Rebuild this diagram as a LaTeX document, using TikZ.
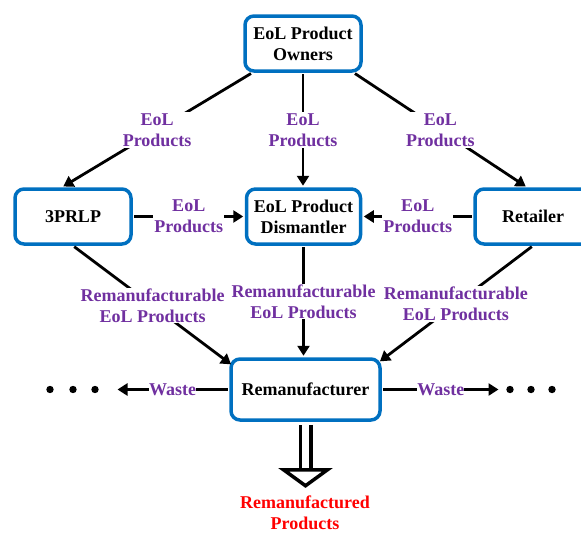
\documentclass[tikz,border=0pt]{standalone}
\usepackage{fontspec}
\setmainfont{Liberation Serif}
\usetikzlibrary{arrows.meta}
\definecolor{eolblue}{RGB}{0,112,192}
\definecolor{eolpurple}{RGB}{112,48,160}
\tikzset{
  actor/.style={draw=eolblue, line width=3.5pt, rounded corners=9pt, fill=white,
                align=center, minimum height=55pt, minimum width=116pt, inner sep=2pt},
  flow/.style={line width=2.8pt, shorten <=1.5pt, shorten >=1.5pt,
               -{Triangle[length=10pt,width=12pt]}},
  flowlab/.style={text=eolpurple, fill=white, align=center, inner sep=1pt}
}

\begin{document}
\begin{tikzpicture}[x=1pt, y=-1pt, font=\fontsize{18}{21}\selectfont\bfseries]
    \useasboundingbox (0,0) rectangle (581,533);
    % actors
    \node[actor] (own) at (303,43.5) {EoL Product\\Owners};
    \node[actor] (prlp) at (73,216.5) {3PRLP};
    \node[actor, minimum width=114pt] (dis) at (303.5,216.5) {EoL Product\\Dismantler};
    \node[actor] (ret) at (533,216.5) {Retailer};
    \node[actor, minimum width=149pt, minimum height=61pt] (rem) at (305.5,389.5) {Remanufacturer};
    \node[text=red, align=center, inner sep=0pt] (prod) at (305,513) {Remanufactured\\Products};
    % collection
    \draw[flow] ([xshift=9pt]own.south west) -- node[flowlab] {EoL\\Products} ([xshift=-11pt]prlp.north);
    \draw[flow] (own.south) -- node[flowlab] {EoL\\Products} (own.south |- dis.north);
    \draw[flow] ([xshift=-9pt]own.south east) -- node[flowlab] {EoL\\Products} ([xshift=-6pt]ret.north);
    \draw[flow] (prlp) -- node[flowlab] {EoL\\Products} (dis);
    \draw[flow] (ret) -- node[flowlab] {EoL\\Products} (dis);
    % to remanufacturer
    \draw[flow] (prlp.south) -- node[flowlab] {Remanufacturable\\EoL Products} ([shift={(3pt,-8pt)}]rem.north west);
    \draw[flow] (dis.south) -- node[flowlab] {Remanufacturable\\EoL Products} (dis.south |- rem.north);
    \draw[flow] (ret.south) -- node[flowlab] {Remanufacturable\\EoL Products} ([shift={(-3pt,-5pt)}]rem.north east);
    % waste
    \coordinate (wl) at (116,389.5);
    \coordinate (wr) at (500,389.5);
    \draw[flow] (rem) -- node[flowlab, inner sep=0pt] {Waste} (wl);
    \draw[flow] (rem) -- node[flowlab, inner sep=0pt] {Waste} (wr);
    \foreach \x in {50,73,95,510,531,552}
        \fill (\x,389.5) circle (3.7pt);
    % output
    \coordinate (head) at ([yshift=-48pt]rem.south);
    \draw[line width=3.5pt, double distance=7pt] ([yshift=-3pt]rem.south) -- (head);
    \draw[line width=3.5pt, fill=white, line join=miter]
        ([xshift=-22pt]head) -- ([xshift=22pt]head) -- ([yshift=-16pt]head) -- cycle;
\end{tikzpicture}
\end{document}
